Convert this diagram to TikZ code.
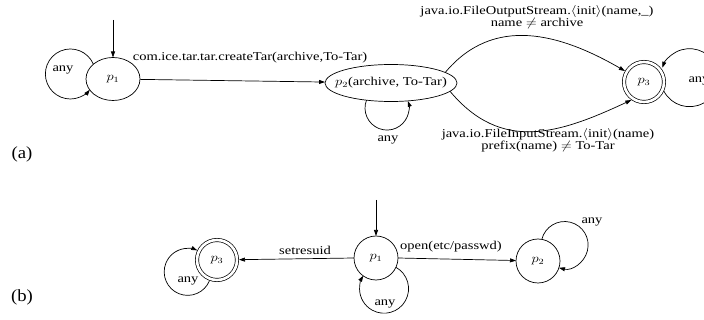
\documentclass[tikz,border=0pt]{standalone}
\usepackage{fontspec}
\usepackage{graphicx}
\setmainfont{Liberation Serif}
\usetikzlibrary{arrows.meta,shapes.geometric}
\newcommand{\hs}[1]{\scalebox{1.21}[1]{#1}}
\newcommand{\twol}[2]{\hs{\begin{tabular}{@{}c@{}}#1\\[-1pt]#2\end{tabular}}}
\tikzset{
  st/.style={draw, line width=0.7pt, inner sep=0pt, outer sep=0pt, font=\fontsize{12}{13}\selectfont},
  acc/.style={st, circle, minimum size=40, double, double distance=2.6pt, outer sep=2pt},
  ci/.style={st, circle, minimum size=44},
  arr/.style={line width=0.7pt, -{Triangle[length=6pt,width=4pt]}},
  lbl/.style={inner sep=0pt, font=\fontsize{12}{13}\selectfont},
  figcap/.style={inner sep=0pt, font=\fontsize{17}{19}\selectfont}
}
\begin{document}
\begin{tikzpicture}[x=1pt,y=1pt]
\useasboundingbox (0,0) rectangle (704,-320);
\clip (0,0) rectangle (704,-320);
% ---------- (a)
\node[st, ellipse, minimum width=54, minimum height=43] (a1) at (113,-79) {\hs{$p_1$}};
\node[st, ellipse, inner xsep=-10pt, minimum width=132, minimum height=37] (a2) at (391,-83) {\hs{$p_2$(archive, To-Tar)}};
\node[acc] (a3) at (644,-82) {\hs{$p_3$}};
\coordinate (a0) at (113,-20);
\draw[arr] (a0) -- (a1);
\draw[arr] (a1.143) arc[start angle=23, end angle=321, radius=25];
\node[lbl] (la1) at (63,-70) {\hs{any}};
\draw[arr] (a1) -- (a2);
\node[lbl] (la12) at (250,-58) {\hs{com.ice.tar.tar.createTar(archive,To-Tar)}};
\draw[arr] (a2.215.6) arc[start angle=159, end angle=379.1, radius=22];
\node[lbl] (la2) at (388,-140) {\hs{any}};
\draw[arr] (a2.11) to[out=50, in=150, looseness=1.07] (a3.150);
\node[lbl] (la23u) at (537,-18) {\twol{java.io.FileOutputStream.$\langle$init$\rangle$(name,\_)}{name $\neq$ archive}};
\draw[arr] (a2.-8) to[out=-50, in=205, looseness=1.13] (a3.235);
\node[lbl] (la23l) at (548,-141) {\twol{java.io.FileInputStream.$\langle$init$\rangle$(name)}{prefix(name) $\neq$ To-Tar}};
\draw[arr] (a3.-25) arc[start angle=208, end angle=520, radius=29];
\node[lbl] (la3) at (699,-81) {\hs{any}};
\node[figcap] (capa) at (22,-154) {\scalebox{1.1}[1]{(a)}};
% ---------- (b)
\node[ci] (b1) at (376,-258) {\hs{$p_1$}};
\node[acc] (b3) at (217,-260) {\hs{$p_3$}};
\node[ci] (b2) at (538,-261) {\hs{$p_2$}};
\coordinate (b0) at (376,-200);
\draw[arr] (b0) -- (b1);
\draw[arr] (b1.west) -- (b3);
\node[lbl] (lb13) at (305,-250) {\hs{setresuid}};
\draw[arr] (b1.east) -- (b2);
\node[lbl] (lb12) at (451,-247) {\hs{open(etc/passwd)}};
\draw[arr] (b1.-25) arc[start angle=61, end angle=-212, radius=24.5];
\node[lbl] (lb1) at (385,-304) {\hs{any}};
\draw[arr] (b3.-110) arc[start angle=-22, end angle=-294, radius=23.5];
\node[lbl] (lb3) at (188,-281) {\hs{any}};
\draw[arr] (b2.80) arc[start angle=166, end angle=-104, radius=23.5];
\node[lbl] (lb2) at (592,-222) {\hs{any}};
\node[figcap] (capb) at (22,-297) {\scalebox{1.1}[1]{(b)}};
\end{tikzpicture}
\end{document}
